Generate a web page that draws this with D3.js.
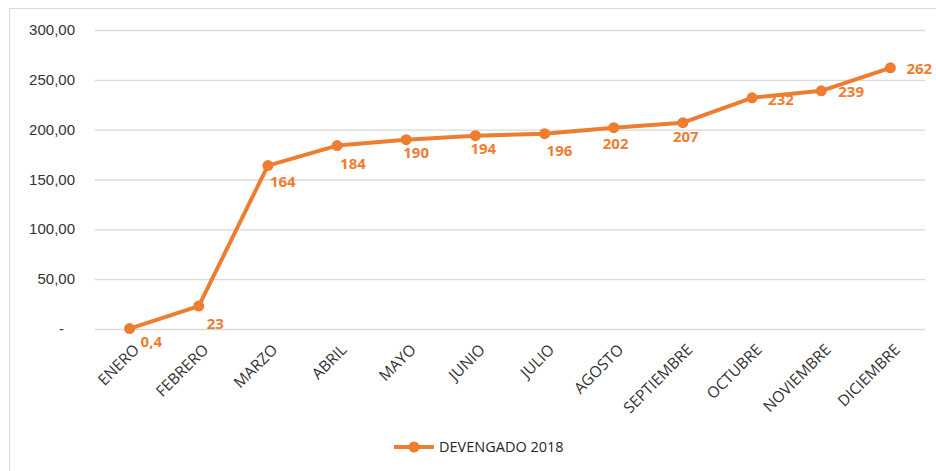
<!DOCTYPE html>
<html>
<head>
<meta charset="utf-8">
<script src="https://cdn.jsdelivr.net/npm/d3@7"></script>
<style>
  body { margin: 0; background: #fff; }
  svg { font-family: "Open Sans", sans-serif; display: block; }
  .axis text { fill: #333333; }
</style>
</head>
<body>
<div id="chart"></div>
<script>
const months = ["ENERO", "FEBRERO", "MARZO", "ABRIL", "MAYO", "JUNIO", "JULIO",
  "AGOSTO", "SEPTIEMBRE", "OCTUBRE", "NOVIEMBRE", "DICIEMBRE"];
const devengado = [0.4, 23, 164, 184, 190, 194, 196, 202, 207, 232, 239, 262];
const valueLabels = ["0,4", "23", "164", "184", "190", "194", "196", "202", "207", "232", "239", "262"];
const yTicks = [0, 50, 100, 150, 200, 250, 300];
const seriesName = "DEVENGADO 2018";

// where Excel put each data label relative to its point
const labelOffsets = [[11, 18], [8, 23], [2, 21], [3, 23], [-3, 18], [-5, 18], [2, 22], [-11, 21], [-10, 19], [16, 7], [17, 6], [16, 6]];

const width = 936;
const height = 471;
const margin = { top: 30, right: 10, bottom: 142, left: 95 };
const color = "#ED7D31";

const svg = d3.select("#chart").append("svg")
  .attr("width", width)
  .attr("height", height);

svg.append("rect")
  .attr("x", 9.5).attr("y", 8.5)
  .attr("width", width).attr("height", height)
  .attr("fill", "none")
  .attr("stroke", "#d9d9d9");

const x = d3.scalePoint()
  .domain(months)
  .range([margin.left, width - margin.right - 1])
  .padding(0.5);

const y = d3.scaleLinear()
  .domain([0, 300])
  .range([height - margin.bottom, margin.top]);

const fmt = (d) => d === 0 ? "-" : d3.format(".2f")(d).replace(".", ",");

const yAxisG = svg.append("g")
  .attr("class", "axis")
  .attr("transform", `translate(${margin.left},0)`)
  .call(d3.axisLeft(y).tickValues(yTicks).tickFormat(fmt)
    .tickSize(-(width - margin.right - margin.left - 1)).tickPadding(20));

yAxisG.select(".domain").remove();
yAxisG.selectAll(".tick line").attr("stroke", "#d9d9d9").attr("stroke-width", 1.3);
yAxisG.selectAll(".tick text").attr("font-size", 15).attr("dy", "0.3em");
yAxisG.selectAll(".tick text").filter((d) => d === 0).attr("dx", -11);

const xAxisG = svg.append("g")
  .attr("class", "axis")
  .attr("transform", `translate(0,${height - margin.bottom})`);

xAxisG.selectAll("text")
  .data(months)
  .join("text")
  .attr("text-anchor", "end")
  .attr("font-size", 15.5)
  .attr("transform", (d) => `translate(${x(d) + 3},${14})rotate(-45)`)
  .attr("dy", "0.7em")
  .text((d) => d);

const line = d3.line()
  .x((d, i) => x(months[i]))
  .y((d) => y(d));

svg.append("path")
  .datum(devengado)
  .attr("fill", "none")
  .attr("stroke", color)
  .attr("stroke-width", 4)
  .attr("stroke-linejoin", "round")
  .attr("d", line);

svg.append("g")
  .selectAll("circle")
  .data(devengado)
  .join("circle")
  .attr("cx", (d, i) => x(months[i]))
  .attr("cy", (d) => y(d))
  .attr("r", 5.5)
  .attr("fill", color);

svg.append("g")
  .selectAll("text")
  .data(devengado)
  .join("text")
  .attr("x", (d, i) => x(months[i]) + labelOffsets[i][0])
  .attr("y", (d, i) => y(d) + labelOffsets[i][1])
  .attr("fill", color)
  .attr("font-size", 15)
  .attr("font-weight", "bold")
  .text((d, i) => valueLabels[i]);

const legend = svg.append("g").attr("transform", "translate(394,447)");
legend.append("line")
  .attr("x1", 0).attr("x2", 40)
  .attr("stroke", color).attr("stroke-width", 4);
legend.append("circle")
  .attr("cx", 20).attr("r", 5.5).attr("fill", color);
legend.append("text")
  .attr("x", 45).attr("dy", "0.35em")
  .attr("font-size", 14.5)
  .attr("fill", "#262626")
  .text(seriesName);
</script>
</body>
</html>
